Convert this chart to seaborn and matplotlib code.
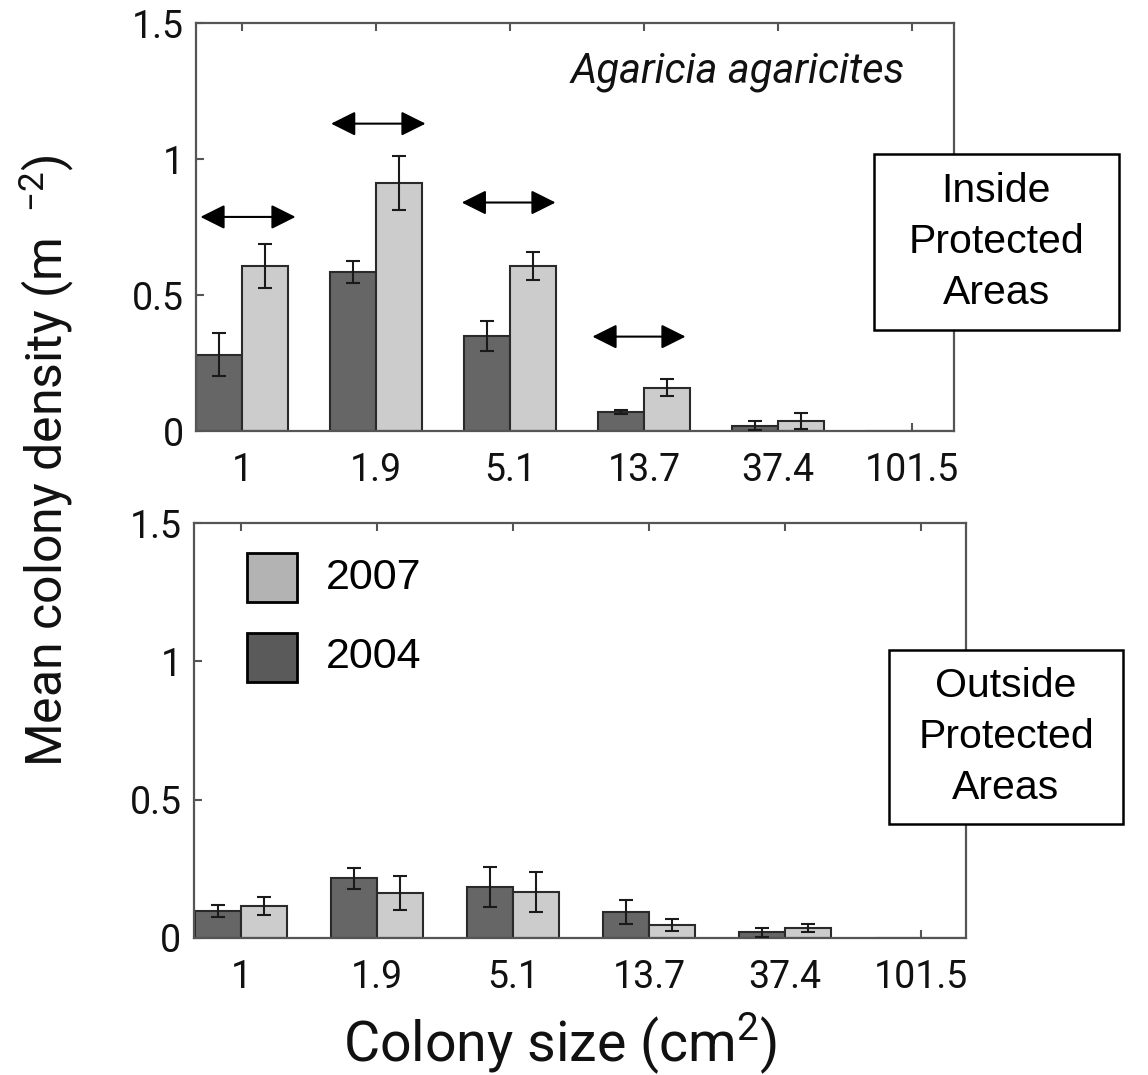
import matplotlib
matplotlib.use("Agg")
import matplotlib.pyplot as plt
from matplotlib.patches import Rectangle
import seaborn as sns
import pandas as pd

# ---------------- data ----------------
sizes = ["1", "1.9", "5.1", "13.7", "37.4", "101.5"]
years = ["2004", "2007"]

in_2004 = [0.28, 0.585, 0.35, 0.07, 0.02, 0.0]
in_2004_err = [0.079, 0.040, 0.055, 0.008, 0.015, 0.0]
in_2007 = [0.607, 0.912, 0.607, 0.159, 0.037, 0.0]
in_2007_err = [0.082, 0.100, 0.052, 0.031, 0.030, 0.0]

out_2004 = [0.097, 0.216, 0.184, 0.093, 0.020, 0.0]
out_2004_err = [0.021, 0.038, 0.072, 0.043, 0.017, 0.0]
out_2007 = [0.115, 0.162, 0.165, 0.047, 0.036, 0.0]
out_2007_err = [0.033, 0.061, 0.072, 0.021, 0.013, 0.0]

# groups with significant change (arrows in top panel): (group index, arrow height)
arrow_groups = [0, 1, 2, 3]
arrow_heights = [0.787, 1.13, 0.84, 0.347]

yticks = [0, 0.5, 1, 1.5]
ytick_labels = ["0", "0.5", "1", "1.5"]

# ---------------- style ----------------
sns.set_theme(style="white")
plt.rcParams["font.family"] = ["Roboto", "DejaVu Sans"]
plt.rcParams["mathtext.fontset"] = "custom"
plt.rcParams["mathtext.rm"] = "Roboto"
plt.rcParams["mathtext.it"] = "Roboto:italic"

DARK = "#666666"
LIGHT = "#cccccc"
SPINE = "#555555"
EDGE = "#2a2a2a"

W, H = 1148, 1075
fig = plt.figure(figsize=(W / 100, H / 100), dpi=100)


def fx(px):
    return px / W


def fy(py):
    return 1 - py / H


ax_top = fig.add_axes([fx(196), fy(431), fx(954 - 196), (431 - 23) / H])
ax_bot = fig.add_axes([fx(194), fy(938), fx(966 - 194), (938 - 523) / H])


def make_df(v04, v07):
    rows = []
    for s, a, b in zip(sizes, v04, v07):
        rows.append({"size": s, "year": "2004", "density": a})
        rows.append({"size": s, "year": "2007", "density": b})
    return pd.DataFrame(rows)


def draw_panel(ax, v04, e04, v07, e07, xlim):
    df = make_df(v04, v07)
    sns.barplot(data=df, x="size", y="density", hue="year", order=sizes,
                hue_order=years, palette={"2004": DARK, "2007": LIGHT},
                width=0.68, edgecolor=EDGE, linewidth=1.5, errorbar=None,
                legend=False, ax=ax)
    for cont, vals, errs in zip(ax.containers, [v04, v07], [e04, e07]):
        for bar, v, e in zip(cont, vals, errs):
            if v > 0:
                ax.errorbar(bar.get_x() + bar.get_width() / 2, v, yerr=e,
                            fmt="none", ecolor="#1a1a1a", elinewidth=1.5,
                            capsize=5, capthick=1.5, zorder=5)
    ax.set_ylim(0, 1.5)
    ax.set_xlim(*xlim)
    ax.set_yticks(yticks)
    ax.set_yticklabels(ytick_labels)
    ax.set_xlabel("")
    ax.set_ylabel("")
    for sp in ax.spines.values():
        sp.set_visible(True)
        sp.set_color(SPINE)
        sp.set_linewidth(1.6)
    ax.tick_params(axis="x", direction="in", top=True, bottom=True, length=6,
                   width=1.5, color=SPINE, labelsize=27, pad=15,
                   labelcolor="#111111")
    ax.tick_params(axis="y", direction="in", left=True, right=False, length=6,
                   width=1.5, color=SPINE, labelsize=27, pad=9,
                   labelcolor="#111111")


draw_panel(ax_top, in_2004, in_2004_err, in_2007, in_2007_err, (-0.343, 5.313))
draw_panel(ax_bot, out_2004, out_2004_err, out_2007, out_2007_err, (-0.346, 5.33))

# arrows over groups with significant change
arrow_left = -0.31
arrow_right = 0.40
for g, yv in zip(arrow_groups, arrow_heights):
    ax_top.annotate("", xy=(g + arrow_right - 0.03 * g, yv),
                    xytext=(g + arrow_left - 0.025 * g, yv),
                    arrowprops=dict(arrowstyle="<|-|>,head_length=0.5,head_width=0.25",
                                    mutation_scale=30, color="black", lw=1.5,
                                    shrinkA=0, shrinkB=0))

# species name
ax_top.text(0.935, 0.853, "Agaricia agaricites", transform=ax_top.transAxes,
            ha="right", va="baseline", fontsize=30, style="italic",
            color="#111111")

# legend (bottom panel)
leg_items = [("2007", "#b3b3b3", 0.8096), ("2004", "#5a5a5a", 0.617)]
for lab, col, yb in leg_items:
    ax_bot.add_patch(Rectangle((0.0687, yb), 0.0648, 0.118,
                               transform=ax_bot.transAxes, facecolor=col,
                               edgecolor="black", linewidth=2, zorder=6))
    ax_bot.text(0.171, yb + 0.059, lab, transform=ax_bot.transAxes,
                ha="left", va="center", fontsize=31,
                family=["Liberation Sans", "DejaVu Sans"], color="black")

# boxed annotations at right
boxes = [((874, 154, 1119, 330), "Inside\nProtected\nAreas"),
         ((889, 650, 1123, 824), "Outside\nProtected\nAreas")]
for (x0, y0, x1, y1), txt in boxes:
    fig.add_artist(Rectangle((fx(x0), fy(y1)), fx(x1 - x0), (y1 - y0) / H,
                             transform=fig.transFigure, facecolor="white",
                             edgecolor="black", linewidth=1.8, zorder=10))
    fig.text(fx((x0 + x1) / 2), fy((y0 + y1) / 2), txt, ha="center",
             va="center", fontsize=29.5, linespacing=1.42,
             family=["Liberation Sans", "DejaVu Sans"], color="black",
             zorder=11)

# axis labels
fig.text(fx(62), fy(767), "Mean colony density (m  $^{-2}$)", rotation=90,
         rotation_mode="anchor", ha="left", va="baseline", fontsize=36,
         color="#111111")
fig.text(fx(560), fy(1061), "Colony size (cm$^{2}$)", ha="center",
         va="baseline", fontsize=40, color="#111111")

fig.savefig("out.png", dpi=100, facecolor="white")
